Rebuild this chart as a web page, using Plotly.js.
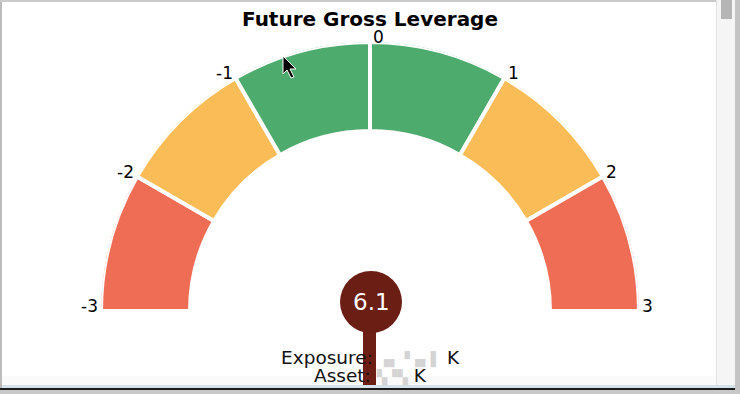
<!DOCTYPE html>
<html>
<head>
<meta charset="utf-8">
<script src="https://cdn.plot.ly/plotly-3.0.1.min.js"></script>
<style>html,body{margin:0;padding:0;background:#fff;}#chart{width:740px;height:394px;}</style>
</head>
<body>
<div id="chart"></div>
<script>
// ---- data ----
const tickValues = [-3, -2, -1, 0, 1, 2, 3];
const tickLabels = ["-3", "-2", "-1", "0", "1", "2", "3"];
const segmentStarts = [-3, -2, -1, 0, 1, 2];
const segmentEnds = [-2, -1, 0, 1, 2, 3];
const segmentColors = ["#F06D55", "#F9BC56", "#4EAB6E", "#4EAB6E", "#F9BC56", "#F06D55"];
const gaugeValue = 6.1;
const titleText = "Future Gross Leverage";
const exposureLabel = "Exposure:";
const assetLabel = "Asset:";
const maskedExposure = "▗▖▝▗▖▌";
const maskedAsset = "▚▝▚";
const unitLabel = "K";

// ---- geometry ----
const W = 740, H = 394;
const cx = 370, cy = 311, R = 269;        // pixel centre and outer radius
const innerR = 180;
const vmin = tickValues[0], vmax = tickValues[tickValues.length - 1];
const toTheta = v => (v - vmin) / (vmax - vmin) * 180;
const px = x => x / W;
const py = y => 1 - y / H;
const font = "DejaVu Sans, sans-serif";

const gaugeTrace = {
  type: "barpolar",
  theta: segmentStarts.map((s, i) => toTheta((s + segmentEnds[i]) / 2)),
  width: segmentStarts.map((s, i) => toTheta(segmentEnds[i]) - toTheta(s)),
  base: segmentStarts.map(() => innerR),
  r: segmentStarts.map(() => R - innerR),
  marker: { color: segmentColors, line: { color: "#ffffff", width: 4 } },
  hoverinfo: "skip",
  showlegend: false
};

const mask = s => " <span style='color:#d4d4d4;font-size:13.5px'>" + s + "</span> ";

const shapes = [
  // needle stem
  { type: "rect", xref: "paper", yref: "paper", x0: px(363), x1: px(376), y0: py(387), y1: py(312),
    fillcolor: "#6E1F15", line: { width: 0 }, layer: "above" },
  // needle head
  { type: "circle", xref: "paper", yref: "paper", x0: px(340), x1: px(402), y0: py(333), y1: py(271),
    fillcolor: "#6B1E14", line: { width: 0 }, layer: "above" },
  // window frame
  { type: "rect", xref: "paper", yref: "paper", x0: 0, x1: px(2), y0: 0, y1: 1, fillcolor: "#bcbcbc", line: { width: 0 } },
  { type: "rect", xref: "paper", yref: "paper", x0: 0, x1: 1, y0: py(2), y1: 1, fillcolor: "#cacaca", line: { width: 0 } },
  { type: "rect", xref: "paper", yref: "paper", x0: px(716), x1: px(735), y0: py(386), y1: 1, fillcolor: "#f5f5f5", line: { width: 0 } },
  { type: "rect", xref: "paper", yref: "paper", x0: px(716), x1: px(717), y0: py(386), y1: 1, fillcolor: "#e2e2e2", line: { width: 0 } },
  { type: "rect", xref: "paper", yref: "paper", x0: px(721), x1: px(732), y0: py(19), y1: 1, fillcolor: "#b5b5b5", line: { width: 0 } },
  { type: "rect", xref: "paper", yref: "paper", x0: px(735), x1: 1, y0: 0, y1: 1, fillcolor: "#c4c4c4", line: { width: 0 } },
  { type: "rect", xref: "paper", yref: "paper", x0: px(2), x1: px(716), y0: py(386), y1: py(376), fillcolor: "rgba(0,0,0,0.018)", line: { width: 0 }, layer: "below" },
  { type: "rect", xref: "paper", yref: "paper", x0: px(2), x1: px(735), y0: py(388), y1: py(385), fillcolor: "#d5e2ea", line: { width: 0 } },
  { type: "rect", xref: "paper", yref: "paper", x0: 0, x1: px(735), y0: py(390), y1: py(388), fillcolor: "#1c1c1c", line: { width: 0 } },
  { type: "rect", xref: "paper", yref: "paper", x0: 0, x1: 1, y0: 0, y1: py(390), fillcolor: "#c8c8c8", line: { width: 0 } },
  // mouse cursor
  { type: "path", xref: "paper", yref: "paper",
    path: "M " + px(283) + "," + py(56) + " L " + px(283) + "," + py(74) + " L " + px(287) + "," + py(70) +
          " L " + px(291) + "," + py(78) + " L " + px(294) + "," + py(77) + " L " + px(290) + "," + py(69) +
          " L " + px(296) + "," + py(69) + " Z",
    fillcolor: "#000000", line: { color: "#ffffff", width: 1 }, layer: "above" }
];

// gauge scale labels placed at the outer rim of each boundary
const tickAnnotations = tickValues.map((v, i) => {
  const ang = (180 - toTheta(v)) * Math.PI / 180;
  const x = cx + R * Math.cos(ang);
  const y = cy - R * Math.sin(ang);
  const neg = v < 0;
  return {
    xref: "paper", yref: "paper", x: px(x), y: py(y - 5),
    text: tickLabels[i], showarrow: false,
    xanchor: neg ? "right" : "left", yanchor: "middle",
    xshift: neg ? -2 : 2, borderpad: 0,
    font: { family: font, size: 17, color: "#000" }
  };
});

const annotations = tickAnnotations.concat([
  { xref: "paper", yref: "paper", x: px(371), y: py(302), text: gaugeValue.toFixed(1), showarrow: false,
    font: { family: font, size: 23, color: "#ffffff" }, xanchor: "center", yanchor: "middle" },
  { xref: "paper", yref: "paper", x: px(370), y: py(357), text: exposureLabel + mask(maskedExposure) + unitLabel,
    showarrow: false, borderpad: 0, font: { family: font, size: 18.5, color: "#111111" }, xanchor: "center", yanchor: "middle" },
  { xref: "paper", yref: "paper", x: px(370), y: py(375), text: assetLabel + mask(maskedAsset) + unitLabel,
    showarrow: false, borderpad: 0, font: { family: font, size: 18.5, color: "#111111" }, xanchor: "center", yanchor: "middle" }
]);

const layout = {
  width: W, height: H,
  margin: { l: 0, r: 0, t: 0, b: 0, pad: 0 },
  paper_bgcolor: "#ffffff",
  showlegend: false,
  title: { text: "<b>" + titleText + "</b>", x: 0.5, xanchor: "center", y: py(19), yanchor: "middle",
           yref: "container", font: { family: font, size: 20, color: "#000" } },
  polar: {
    domain: { x: [px(cx - R), px(cx + R)], y: [py(cy), py(cy - R)] },
    sector: [0, 180],
    bgcolor: "rgba(0,0,0,0)",
    radialaxis: { visible: false, range: [0, R] },
    angularaxis: {
      rotation: 180, direction: "clockwise",
      showticklabels: false, ticks: "", showgrid: false, showline: false
    }
  },
  shapes: shapes,
  annotations: annotations
};

Plotly.newPlot("chart", [gaugeTrace], layout, { displayModeBar: false, staticPlot: true });
</script>
</body>
</html>
